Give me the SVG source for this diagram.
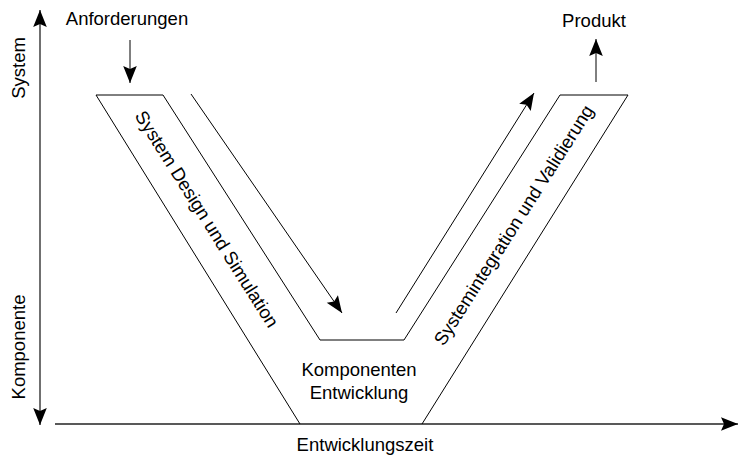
<svg xmlns="http://www.w3.org/2000/svg" width="739" height="457" viewBox="0 0 739 457">
<style>
.t{font-family:"Liberation Sans",Arial,Helvetica,sans-serif;font-size:18.5px;fill:#000;text-anchor:middle}
.ln{fill:none;stroke:#000;stroke-width:1}
.ax{fill:none;stroke:#222;stroke-width:1.3}
</style>
<defs>
<marker id="ah" markerUnits="userSpaceOnUse" markerWidth="20" markerHeight="16" viewBox="-18 -8 19 16" refX="0" refY="0" orient="auto">
<path d="M0,0 L-17,-6.8 L-14,0 L-17,6.8 Z" fill="#000"/>
</marker>
</defs>
<g id="connectors">
<line class="ax" x1="40" y1="68" x2="40" y2="10" marker-end="url(#ah)"/>
<line class="ax" x1="40" y1="350" x2="40" y2="425" marker-end="url(#ah)"/>
<line class="ax" x1="40" y1="68" x2="40" y2="350"/>
<line class="ax" x1="55" y1="424" x2="738" y2="424" marker-end="url(#ah)"/>
<line class="ln" x1="130" y1="40" x2="130" y2="83" marker-end="url(#ah)"/>
<line class="ln" x1="596" y1="82" x2="596" y2="39" marker-end="url(#ah)"/>
<line class="ln" x1="191" y1="94" x2="342" y2="313" marker-end="url(#ah)"/>
<line class="ln" x1="396" y1="313" x2="534" y2="93" marker-end="url(#ah)"/>
</g>
<g id="v-shape">
<polyline class="ln" points="300,424 96,95 163,95 320,340 404,340 560,95 628,95 422,424"/>
</g>
<g id="axis-labels">
<text class="t" x="127" y="25">Anforderungen</text>
<text class="t" x="594" y="27">Produkt</text>
<text class="t" x="365" y="451">Entwicklungszeit</text>
<text class="t" transform="translate(25,68) rotate(-90)">System</text>
<text class="t" transform="translate(25,347) rotate(-90)">Komponente</text>
</g>
<g id="phase-design">
<text class="t" transform="translate(207,219) rotate(57.8)" y="6.5">System Design und Simulation</text>
</g>
<g id="phase-component">
<text class="t" x="359" y="376">Komponenten</text>
<text class="t" x="359" y="399">Entwicklung</text>
</g>
<g id="phase-integration">
<text class="t" transform="translate(513.5,225) rotate(-57.5)" y="6.5">Systemintegration und Validierung</text>
</g>
</svg>
